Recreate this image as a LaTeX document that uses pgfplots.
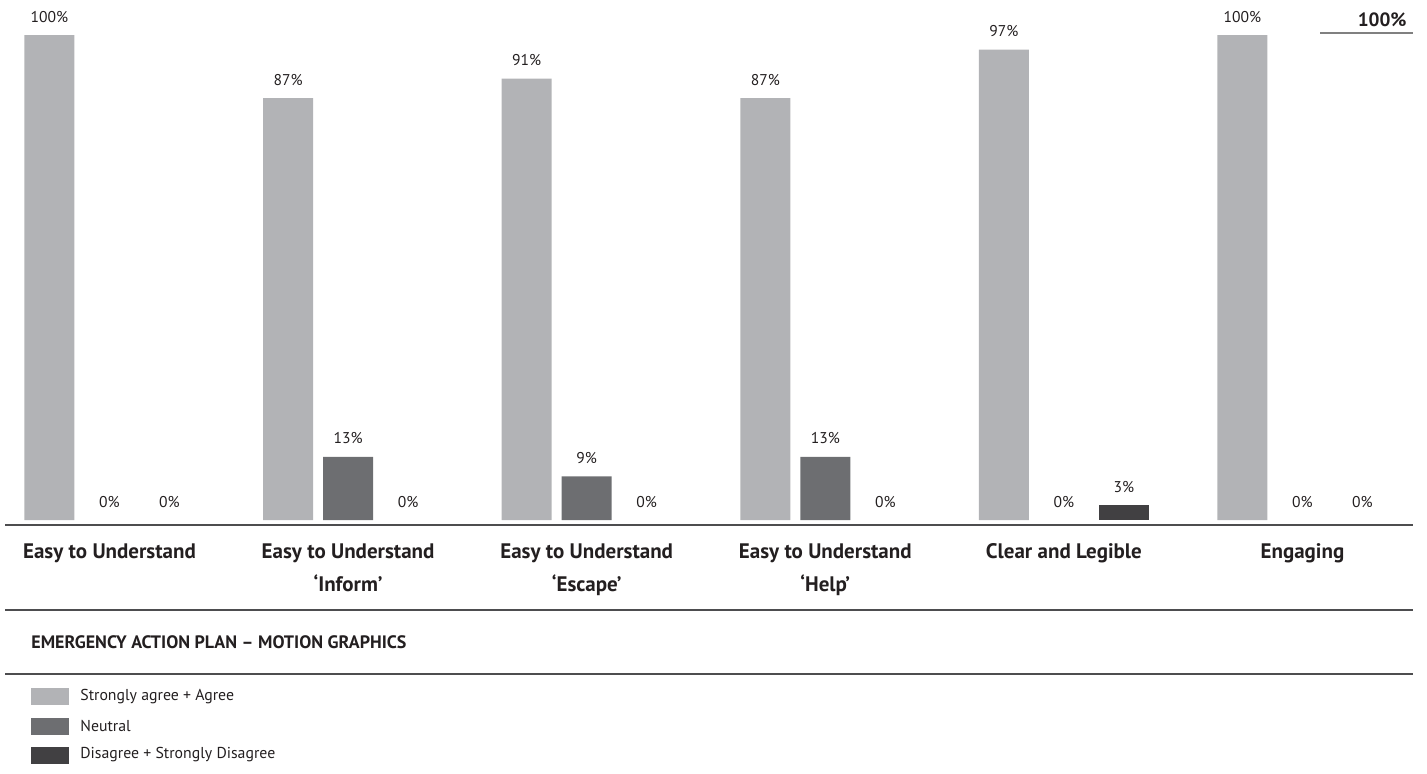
\documentclass[border=0pt]{standalone}
\usepackage{fontspec}
\setmainfont{PT Sans}
\usepackage{pgfplots}
\pgfplotsset{compat=1.18}
\definecolor{cagree}{HTML}{B2B3B6}
\definecolor{cneutral}{HTML}{6D6E71}
\definecolor{cdis}{HTML}{414042}
\definecolor{ctext}{HTML}{231F20}
\definecolor{cline}{HTML}{4D4D4F}
\begin{document}
\begin{tikzpicture}
\begin{axis}[
  at={(0pt,-260pt)}, anchor=south west,
  scale only axis, width=713.5pt, height=242.5pt,
  xmin=-0.4589, xmax=5.522, ymin=0, ymax=100,
  clip=false,
  axis line style={draw=none}, tick style={draw=none},
  ytick=\empty,
  xtick={0,1,2,3,4,5},
  xticklabels={Easy to Understand,{Easy to Understand\\‘Inform’},{Easy to Understand\\‘Escape’},{Easy to Understand\\‘Help’},Clear and Legible,Engaging},
  xticklabel style={align=center, font=\fontsize{10.5pt}{16.5pt}\selectfont\bfseries, text=ctext, anchor=north, inner sep=0pt, yshift=-7.5pt},
  ybar, bar width=25pt,
  /pgf/number format/assume math mode=true,
  nodes near coords={\pgfmathprintnumber{\pgfplotspointmeta}\%},
  every node near coord/.append style={font=\fontsize{7.8pt}{9pt}\selectfont, text=ctext, anchor=base, inner sep=0pt, yshift=6.5pt},
]
% Strongly agree + Agree
\addplot[fill=cagree, draw=none, bar shift=-30pt] coordinates {(0,100) (1,87) (2,91) (3,87) (4,97) (5,100)};
% Neutral (non-zero bars, then zero values as labels only)
\addplot[fill=cneutral, draw=none, bar shift=0pt] coordinates {(1,13) (2,9) (3,13)};
\addplot[fill=none, draw=none, bar shift=0pt] coordinates {(0,0) (4,0) (5,0)};
% Disagree + Strongly Disagree
\addplot[fill=cdis, draw=none, bar shift=30pt] coordinates {(4,3)};
\addplot[fill=none, draw=none, bar shift=30pt] coordinates {(0,0) (1,0) (2,0) (3,0) (5,0)};
\end{axis}
\begin{scope}[x=0.5pt,y=-0.5pt]
\useasboundingbox (0,0) rectangle (1427,773);
\draw[cline, line width=0.8pt] (5,525) -- (1413,525);
\draw[cline, line width=0.6pt] (5,610) -- (1413,610);
\draw[cline, line width=0.6pt] (5,674) -- (1413,674);
\draw[gray, line width=0.8pt] (1320,33) -- (1413,33);
\node[anchor=east, inner sep=0pt, text=ctext, font=\fontsize{9.6pt}{10pt}\selectfont\bfseries] at (1407,20) {100\%};
\node[anchor=west, inner sep=0pt, text=ctext, font=\fontsize{9pt}{10pt}\selectfont\bfseries] at (31,642) {EMERGENCY ACTION PLAN – MOTION GRAPHICS};
\fill[cagree] (31,688) rectangle (69,705);
\fill[cneutral] (31,718) rectangle (69,735);
\fill[cdis] (31,747) rectangle (69,764);
\node[anchor=west, inner sep=0pt, text=ctext, font=\fontsize{7.9pt}{9pt}\selectfont] at (80,697) {Strongly agree + Agree};
\node[anchor=west, inner sep=0pt, text=ctext, font=\fontsize{7.9pt}{9pt}\selectfont] at (80,726) {Neutral};
\node[anchor=west, inner sep=0pt, text=ctext, font=\fontsize{7.9pt}{9pt}\selectfont] at (80,755) {Disagree + Strongly Disagree};
\end{scope}
\end{tikzpicture}
\end{document}
